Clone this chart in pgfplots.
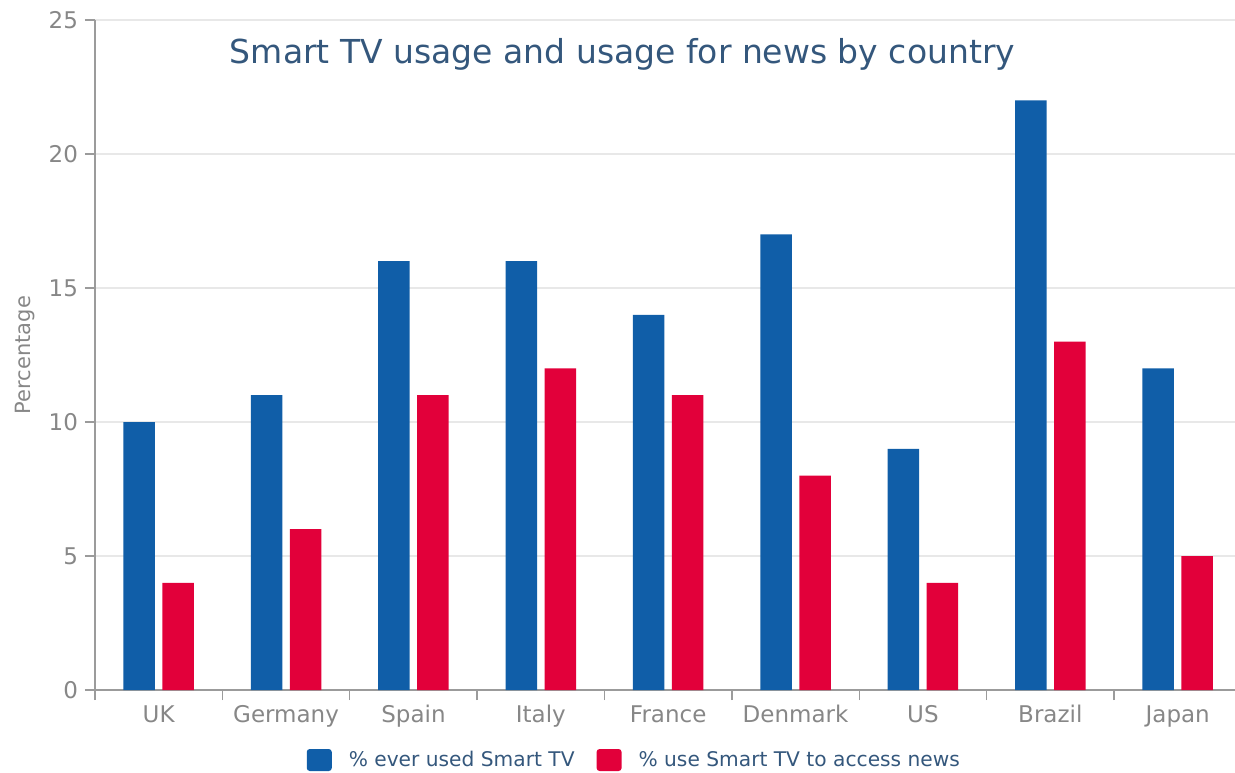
\documentclass[border=0pt]{standalone}
\usepackage{fontspec}
\setmainfont{DejaVu Sans}
\usepackage{pgfplots}
\pgfplotsset{compat=1.18}
\definecolor{barblue}{RGB}{16,94,168}
\definecolor{barred}{RGB}{226,0,58}
\definecolor{titleblue}{RGB}{52,87,124}
\definecolor{axisgray}{RGB}{155,155,155}
\definecolor{labelgray}{RGB}{135,135,135}
\definecolor{gridgray}{RGB}{232,232,232}
\begin{document}
\begin{tikzpicture}
\begin{axis}[
  scale only axis,
  width=570pt, height=335pt,
  ymin=0, ymax=25,
  ytick={0,5,...,25},
  xmin=-0.5, xmax=8.45,
  axis x line*=bottom, axis y line*=left,
  axis line style={axisgray, line width=0.75pt},
  tick align=outside,
  major tick length=5pt,
  tick style={axisgray, line width=0.7pt},
  ymajorgrids,
  grid style={gridgray, line width=0.7pt},
  xtick={-0.5,0.5,...,8.5},
  xticklabels={},
  extra x ticks={0,1,2,3,4,5,6,7,8},
  extra x tick labels={UK,Germany,Spain,Italy,France,Denmark,US,Brazil,Japan},
  extra x tick style={major tick length=0pt, tick label style={yshift=-4pt, text height=1.6ex, text depth=0.4ex}},
  ticklabel style={font=\fontsize{11.5}{13}\selectfont, text=labelgray},
  /pgf/number format/assume math mode=true,
  ylabel={Percentage},
  ylabel style={at={(axis description cs:-0.061,0.5)}, anchor=center, rotate=0, font=\fontsize{10.5}{12}\selectfont, text=labelgray},
  title={Smart TV usage and usage for news by country},
  title style={at={(axis description cs:0.4627,1)}, anchor=center, yshift=-23pt, font=\fontsize{16.5}{19}\selectfont, text=titleblue},
  ybar=3.75pt, bar width=15.75pt,
  legend columns=2,
  legend style={draw=none, fill=none, at={(axis description cs:0.474,0)}, anchor=center, yshift=-35pt,
    font=\fontsize{10.1}{12}\selectfont, text=titleblue,
    /tikz/every even column/.append style={column sep=9pt}},
  clip=false,
]
\addplot[fill=barblue, draw=none, legend image code/.code={\fill[barblue, rounded corners=1.5pt] (0pt,-5.5pt) rectangle (12.5pt,5.5pt); \path (19pt,0pt);}]
  coordinates {(0,10) (1,11) (2,16) (3,16) (4,14) (5,17) (6,9) (7,22) (8,12)};
\addplot[fill=barred, draw=none, legend image code/.code={\fill[barred, rounded corners=1.5pt] (0pt,-5.5pt) rectangle (12.5pt,5.5pt); \path (19pt,0pt);}]
  coordinates {(0,4) (1,6) (2,11) (3,12) (4,11) (5,8) (6,4) (7,13) (8,5)};
\legend{\% ever used Smart TV, \% use Smart TV to access news}
\end{axis}
\pgfresetboundingbox
\path ([shift={(-47.5pt,-41pt)}]current axis.south west) rectangle ([shift={(0pt,10pt)}]current axis.north east);
\end{tikzpicture}
\end{document}
